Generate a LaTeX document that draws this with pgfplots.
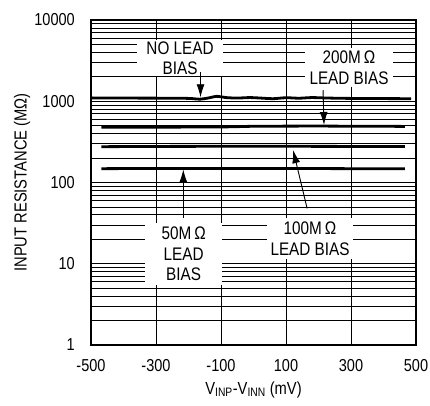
\documentclass[border=0pt]{standalone}
\usepackage{fontspec}
\setmainfont{Liberation Sans}[FakeStretch=0.84]
\newfontfamily\plainsans{Liberation Sans}
\usepackage{pgfplots}
\pgfplotsset{compat=1.18}
\usetikzlibrary{arrows.meta}
\newcommand{\annot}{\fontsize{18.2}{20.5}\selectfont}
\begin{document}
\begin{tikzpicture}
\begin{axis}[
    scale only axis, width=325pt, height=325pt,
    ymode=log,
    xmin=-500, xmax=500, ymin=1, ymax=10000,
    xtick={-500,-300,-100,100,300,500},
    xticklabels={-500,-300,-100,100,300,500},
    ytick={1,10,100,1000,10000},
    yticklabels={1,10,100,1000,10000},
    major tick length=0pt, minor tick length=0pt,
    xmajorgrids=true, ymajorgrids=true, yminorgrids=true,
    major grid style={black, line width=0.8pt},
    minor grid style={black, line width=0.7pt},
    axis line style={line width=2.5pt},
    tick label style={font=\fontsize{17.3}{19}\selectfont},
    xticklabel style={anchor=north, inner sep=0pt, yshift=-14.5pt},
    yticklabel style={anchor=east, inner sep=0pt, xshift=-16pt},
    /pgf/number format/assume math mode=true,
    xlabel={V\textsubscript{INP}-V\textsubscript{INN} (mV)},
    ylabel={INPUT RESISTANCE (MΩ)},
    label style={font=\fontsize{17.5}{19}\selectfont},
    xlabel style={at={(axis description cs:0.5,-0.137)}, anchor=center},
    ylabel style={at={(axis description cs:-0.212,0.5)}, anchor=center},
]
% no lead bias
\addplot[black, line width=2.8pt, smooth] coordinates {
 (-500,1100) (-400,1095) (-300,1092) (-230,1090) (-190,1080) (-165,1060)
 (-140,1095) (-112,1150) (-85,1110) (-50,1095) (-10,1110) (30,1090)
 (60,1075) (100,1105) (140,1090) (180,1110) (230,1095) (290,1085)
 (360,1080) (420,1078) (485,1075)
};
% 200M lead bias
\addplot[black, line width=2.8pt, smooth] coordinates {
 (-468,478) (-350,480) (-200,481) (-80,484) (0,492) (100,494)
 (200,495) (300,493) (400,492) (466,490)
};
% 100M lead bias
\addplot[black, line width=2.8pt] coordinates {
 (-468,276) (-300,278) (-100,279) (100,279) (300,278) (466,278)
};
% 50M lead bias
\addplot[black, line width=2.8pt] coordinates {
 (-468,148) (-300,149) (-100,149) (100,149) (300,148) (466,148)
};

\node[fill=white, inner xsep=0pt, inner ysep=1.5pt, minimum width=86pt,
      align=center, font=\annot] at (axis cs:-226,3380) {NO LEAD\\BIAS};
\node[fill=white, inner xsep=0pt, inner ysep=3pt, minimum width=88pt,
      align=center, font=\annot] at (axis cs:294,2583) {200M\,Ω\\LEAD BIAS};
\node[fill=white, inner xsep=0pt, inner ysep=4pt, minimum width=77pt,
      align=center, font=\annot] at (axis cs:-215,13.1) {50M\,Ω\\LEAD\\BIAS};
\node[fill=white, inner xsep=0pt, inner ysep=4pt, minimum width=86pt,
      align=center, font=\annot] at (axis cs:174,20.3) {100M\,Ω\\LEAD BIAS};

\draw[-{Latex[length=13pt,width=8pt]}, line width=0.9pt]
  (axis cs:-163,2275) -- (axis cs:-163,1120);
\draw[-{Latex[length=13pt,width=8pt]}, line width=0.9pt]
  (axis cs:214,1366) -- (axis cs:217,510);
\draw[-{Latex[length=13pt,width=8pt]}, line width=0.9pt]
  (axis cs:165,48) -- (axis cs:122,250);
\draw[-{Latex[length=13pt,width=8pt]}, line width=0.9pt]
  (axis cs:-216,37) -- (axis cs:-216,145);

\node[anchor=south east, inner sep=0pt, yshift=3.5pt,
      font=\plainsans\fontsize{9.5}{11}\selectfont]
  at (rel axis cs:1,1) {toc12};
\end{axis}
\pgfresetboundingbox
\path (-91pt,-60pt) rectangle (339pt,345pt);
\end{tikzpicture}
\end{document}
